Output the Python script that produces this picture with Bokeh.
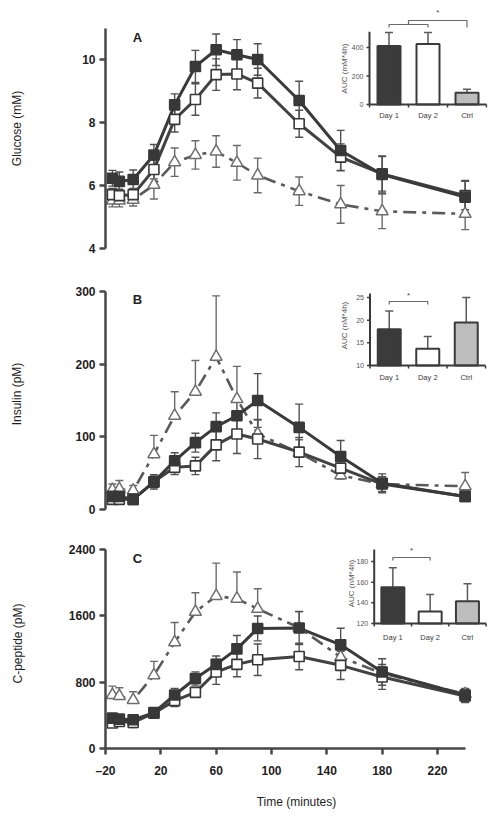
import math
from bokeh.plotting import figure
from bokeh.models import Range1d, FixedTicker, Label, Title
from bokeh.layouts import column
from bokeh.embed import file_html
from bokeh.resources import INLINE
from bokeh.core.properties import value

# ---------------- data ----------------
time_min = [-15, -10, 0, 15, 30, 45, 60, 75, 90, 120, 150, 180, 240]

glucose_day1 = [6.23, 6.13, 6.19, 6.97, 8.56, 9.78, 10.31, 10.15, 10.0, 8.70, 7.11, 6.35, 5.63]
glucose_day1_se = [0.25, 0.3, 0.3, 0.33, 0.35, 0.51, 0.5, 0.48, 0.5, 0.61, 0.64, 0.59, 0.53]
glucose_day2 = [5.71, 5.68, 5.71, 6.51, 8.10, 8.73, 9.52, 9.54, 9.25, 7.96, 6.90, 6.37, 5.68]
glucose_day2_se = [0.2, 0.2, 0.2, 0.3, 0.4, 0.5, 0.5, 0.5, 0.47, 0.43, 0.42, 0.55, 0.45]
glucose_ctrl = [5.52, 5.52, 5.55, 6.02, 6.74, 6.97, 7.08, 6.72, 6.32, 5.82, 5.40, 5.18, 5.10]
glucose_ctrl_se = [0.2, 0.2, 0.2, 0.45, 0.45, 0.45, 0.5, 0.55, 0.55, 0.45, 0.6, 0.55, 0.5]

insulin_day1 = [18, 18, 14, 38, 67, 92, 114, 129, 150, 113, 73, 36, 18]
insulin_day1_se = [8, 8, 6, 10, 11, 13, 19, 20, 37, 32, 22, 13, 6]
insulin_day2 = [14, 14, 14, 38, 58, 60, 89, 104, 97, 79, 57, 35, 18]
insulin_day2_se = [5, 5, 5, 8, 10, 12, 22, 27, 27, 20, 15, 10, 5]
insulin_ctrl = [27, 28, 26, 76, 129, 162, 210, 152, 104, 78, 47, 35, 32]
insulin_ctrl_se = [8, 12, 7, 26, 33, 43, 84, 45, 19, 18, 10, 10, 19]

cpep_day1 = [366, 354, 346, 433, 645, 844, 1015, 1202, 1448, 1453, 1250, 923, 645]
cpep_day1_se = [50, 50, 50, 40, 80, 80, 100, 160, 150, 200, 200, 160, 80]
cpep_day2 = [307, 326, 314, 426, 577, 677, 923, 1015, 1071, 1110, 1003, 863, 633]
cpep_day2_se = [50, 50, 60, 40, 70, 60, 150, 150, 190, 160, 170, 150, 80]
cpep_ctrl = [645, 633, 585, 884, 1281, 1648, 1839, 1807, 1684, 1457, 1102, 907, 657]
cpep_ctrl_se = [107, 100, 100, 167, 239, 230, 397, 322, 242, 194, 150, 80, 60]

groups = ["Day 1", "Day 2", "Ctrl"]
auc_glucose = [410, 425, 82]
auc_glucose_err = [95, 80, 25]
auc_insulin = [18.0, 13.7, 19.5]
auc_insulin_err = [4.0, 2.7, 5.5]
auc_cpep = [155, 131.5, 141.5]
auc_cpep_err = [19, 16.5, 17]

x_ticks = [-20, 20, 60, 100, 140, 180, 220]

FONT = "Liberation Sans"
DARK = "#3b3b3b"
AXC = "#474747"

# pixel geometry (window coords)
FRAME_L, FRAME_R = 105, 487
PAGE_X0 = 0
FIG_W = 495


def lin_range(v1, p1, v2, p2, p_start, p_end):
    k = (v2 - v1) / (p2 - p1)
    return Range1d(v1 + (p_start - p1) * k, v1 + (p_end - p1) * k)


def mapper(v1, p1, v2, p2):
    k = (v2 - v1) / (p2 - p1)
    return lambda p: v1 + (p - p1) * k


X_ANCH = (-20, 105, 220, 437)

panels = [
    dict(letter="A", fig_top=0, fig_h=270, frame_top=8, frame_bot=248,
         yanch=(4, 248, 10, 59), ybounds=(4, 11), yticks=[4, 6, 8, 10],
         ylabel="Glucose (mM)", lab_stand=55,
         d1=glucose_day1, d1e=glucose_day1_se, d2=glucose_day2, d2e=glucose_day2_se,
         c=glucose_ctrl, ce=glucose_ctrl_se, ctrl_both=True,
         letter_px=(137, 37),
         inset=dict(xanch=(1.5, 408, 2.5, 447), yanch=(0, 104, 400, 47), base=0, ytop=510,
                    ticks=[0, 200, 400], vals=auc_glucose, errs=auc_glucose_err,
                    lab_py=115, auc_px=344, auc_py=68, auc_text="AUC (mM*4h)",
                    brackets=[([1, 1, 2, 2], [27, 24, 24, 27]),
                              ([1.5, 1.5, 3, 3], [24, 20, 20, 27])],
                    star=(2.25, 12))),
    dict(letter="B", fig_top=270, fig_h=260, frame_top=278, frame_bot=509,
         yanch=(0, 509, 300, 291), ybounds=(0, 300), yticks=[0, 100, 200, 300],
         ylabel="Insulin (pM)", lab_stand=48,
         d1=insulin_day1, d1e=insulin_day1_se, d2=insulin_day2, d2e=insulin_day2_se,
         c=insulin_ctrl, ce=insulin_ctrl_se, ctrl_both=False,
         letter_px=(137, 299),
         inset=dict(xanch=(1.5, 408, 2.5, 446.5), yanch=(10, 365, 25, 297), base=10, ytop=25.9,
                    ticks=[10, 15, 20, 25], vals=auc_insulin, errs=auc_insulin_err,
                    lab_py=377, auc_px=344, auc_py=325, auc_text="AUC (nM*4h)",
                    brackets=[([1, 1, 2, 2], [304, 301, 301, 304])],
                    star=(1.5, 295))),
    dict(letter="C", fig_top=530, fig_h=292, frame_top=538, frame_bot=748,
         yanch=(0, 748, 2400, 549), ybounds=(0, 2400), yticks=[0, 800, 1600, 2400],
         ylabel="C-peptide (pM)", lab_stand=41,
         d1=cpep_day1, d1e=cpep_day1_se, d2=cpep_day2, d2e=cpep_day2_se,
         c=cpep_ctrl, ce=cpep_ctrl_se, ctrl_both=False,
         letter_px=(137, 558),
         inset=dict(xanch=(1.5, 411, 2.5, 448.3), yanch=(120, 623, 180, 561), base=120, ytop=191.6,
                    ticks=[120, 140, 160, 180], vals=auc_cpep, errs=auc_cpep_err,
                    lab_py=637, auc_px=351, auc_py=583, auc_text="AUC (nM*4h)",
                    brackets=[([1, 1, 2, 2], [560, 557, 557, 560])],
                    star=(1.5, 550))),
]


def style_axis(ax):
    ax.axis_line_width = 2.5
    ax.axis_line_color = AXC
    ax.major_tick_line_width = 2.5
    ax.major_tick_line_color = AXC
    ax.major_tick_out = 6
    ax.major_tick_in = 0
    ax.minor_tick_line_color = None
    ax.major_label_text_font = FONT
    ax.major_label_text_font_style = "bold"
    ax.major_label_text_font_size = "12px"
    ax.major_label_text_color = "#1e1e1e"
    ax.major_label_standoff = 4
    ax.axis_label_text_font = FONT
    ax.axis_label_text_font_style = "normal"
    ax.axis_label_text_font_size = "12px"
    ax.axis_label_text_color = "#1e1e1e"


def errorbars(p, xs, ys, es, color, both=True):
    hi = [y + e for y, e in zip(ys, es)]
    lo = [y - e for y, e in zip(ys, es)] if both else list(ys)
    p.segment(x0=xs, y0=lo, x1=xs, y1=hi, line_color=color, line_width=1.4)
    p.scatter(x=xs, y=hi, marker="dash", size=8, line_color=color, line_width=1.4)
    if both:
        p.scatter(x=xs, y=lo, marker="dash", size=8, line_color=color, line_width=1.4)


def draw_inset(p, cfg, frame_top, frame_bot):
    xa, ya = cfg["xanch"], cfg["yanch"]
    p.extra_x_ranges = {"ix": lin_range(xa[0], xa[1], xa[2], xa[3], FRAME_L, FRAME_R)}
    p.extra_y_ranges = {"iy": lin_range(ya[0], ya[1], ya[2], ya[3], frame_bot, frame_top)}
    kw = dict(x_range_name="ix", y_range_name="iy")
    kx = (xa[3] - xa[1]) / (xa[2] - xa[0])
    py2v = mapper(ya[0], ya[1], ya[2], ya[3])
    px2v = mapper(xa[0], xa[1], xa[2], xa[3])
    ky = (ya[1] - ya[3]) / (ya[2] - ya[0])
    base = cfg["base"]
    xs = [1, 2, 3]
    vals, errs = cfg["vals"], cfg["errs"]
    tops = [v + e for v, e in zip(vals, errs)]
    p.segment(x0=xs, y0=vals, x1=xs, y1=tops, line_color="#5a5a5a", line_width=1.5, **kw)
    p.scatter(x=xs, y=tops, marker="dash", size=8, line_color="#5a5a5a", line_width=1.5, **kw)
    p.vbar(x=xs, top=vals, bottom=base, width=23 / kx,
           fill_color=[DARK, "white", "#bdbdbd"], line_color=DARK, line_width=2, **kw)
    p.segment(x0=[0.5], y0=[base], x1=[0.5], y1=[cfg["ytop"]], line_color=DARK, line_width=2, **kw)
    p.segment(x0=[0.5], y0=[base], x1=[3.5], y1=[base], line_color=DARK, line_width=2, **kw)
    t = cfg["ticks"]
    p.segment(x0=[0.5 - 3 / kx] * len(t), y0=t, x1=[0.5] * len(t), y1=t,
              line_color=DARK, line_width=1.5, **kw)
    p.text(x=[0.5 - 6 / kx] * len(t), y=t, text=[str(v) for v in t],
           text_font=value(FONT), text_font_size="7px", text_color="#555555",
           text_align="right", text_baseline="middle", **kw)
    xt = [0.5, 1.5, 2.5, 3.5]
    p.segment(x0=xt, y0=[base] * 4, x1=xt, y1=[base - 3 / ky] * 4,
              line_color=DARK, line_width=1.5, **kw)
    p.text(x=xs, y=[py2v(cfg["lab_py"])] * 3, text=groups,
           text_font=value(FONT), text_font_size="7.5px", text_color="#3a3a3a",
           text_align="center", text_baseline="middle", **kw)
    p.text(x=[px2v(cfg["auc_px"])], y=[py2v(cfg["auc_py"])], text=[cfg["auc_text"]],
           angle=math.pi / 2, text_font=value(FONT), text_font_size="8px", text_color="#555555",
           text_align="center", text_baseline="middle", **kw)
    for bx, bpy in cfg["brackets"]:
        p.line(x=bx, y=[py2v(v) for v in bpy], line_color="#6a6a6a", line_width=1.2, **kw)
    sx, spy = cfg["star"]
    p.text(x=[sx], y=[py2v(spy)], text=["*"], text_font=value(FONT), text_font_size="8px",
           text_color="#444444", text_align="center", text_baseline="middle", **kw)


figs = []
for i, cfg in enumerate(panels):
    ft, fb = cfg["frame_top"], cfg["frame_bot"]
    ya = cfg["yanch"]
    p = figure(width=FIG_W, height=cfg["fig_h"], output_backend="svg", toolbar_location=None,
               x_range=lin_range(X_ANCH[0], X_ANCH[1], X_ANCH[2], X_ANCH[3], FRAME_L, FRAME_R),
               y_range=lin_range(ya[0], ya[1], ya[2], ya[3], fb, ft),
               min_border_left=FRAME_L - PAGE_X0, min_border_right=PAGE_X0 + FIG_W - FRAME_R,
               min_border_top=ft - cfg["fig_top"],
               min_border_bottom=cfg["fig_top"] + cfg["fig_h"] - fb)
    p.outline_line_color = None
    p.grid.visible = False
    p.background_fill_color = "white"
    p.border_fill_color = "white"

    style_axis(p.yaxis[0])
    p.yaxis.bounds = cfg["ybounds"]
    p.yaxis.ticker = FixedTicker(ticks=cfg["yticks"])
    p.yaxis.axis_label = cfg["ylabel"]
    p.yaxis.axis_label_standoff = cfg["lab_stand"]

    if cfg["letter"] == "C":
        style_axis(p.xaxis[0])
        p.xaxis.bounds = (-20, 240)
        p.xaxis.ticker = FixedTicker(ticks=x_ticks)
        p.xaxis.major_label_overrides = {-20: "\u201320"}
        p.xaxis.major_label_standoff = 9
        p.add_layout(Title(text="Time (minutes)", align="center", offset=-30,
                           text_font=FONT, text_font_size="12px", text_font_style="normal",
                           text_color="#1e1e1e", standoff=25), "below")
    else:
        p.xaxis.visible = False

    p.line(time_min, cfg["c"], line_color="#5a5a5a", line_width=2.6, line_dash="13 6 4 6")
    p.line(time_min, cfg["d2"], line_color="#424242", line_width=3)
    p.line(time_min, cfg["d1"], line_color="#3a3a3a", line_width=3)
    errorbars(p, time_min, cfg["c"], cfg["ce"], "#6a6a6a", both=cfg["ctrl_both"])
    errorbars(p, time_min, cfg["d2"], cfg["d2e"], "#505050")
    errorbars(p, time_min, cfg["d1"], cfg["d1e"], "#505050")
    p.scatter(time_min, cfg["c"], marker="triangle", size=12, fill_color="white",
              line_color="#6e6e6e", line_width=1.5)
    p.scatter(time_min, cfg["d2"], marker="square", size=10, fill_color="white",
              line_color="#383838", line_width=1.6)
    p.scatter(time_min, cfg["d1"], marker="square", size=10, fill_color="#383838",
              line_color="#383838", line_width=1.6)

    draw_inset(p, cfg["inset"], ft, fb)

    px2x = mapper(X_ANCH[0], X_ANCH[1], X_ANCH[2], X_ANCH[3])
    py2y = mapper(ya[0], ya[1], ya[2], ya[3])
    lx, ly = cfg["letter_px"]
    p.add_layout(Label(x=px2x(lx), y=py2y(ly), text=cfg["letter"], text_font=FONT,
                       text_font_style="bold", text_font_size="13px", text_color="#1e1e1e",
                       text_align="center", text_baseline="middle"))
    figs.append(p)

layout = column(*figs, spacing=0)
open("out.html", "w").write(file_html(layout, INLINE))
